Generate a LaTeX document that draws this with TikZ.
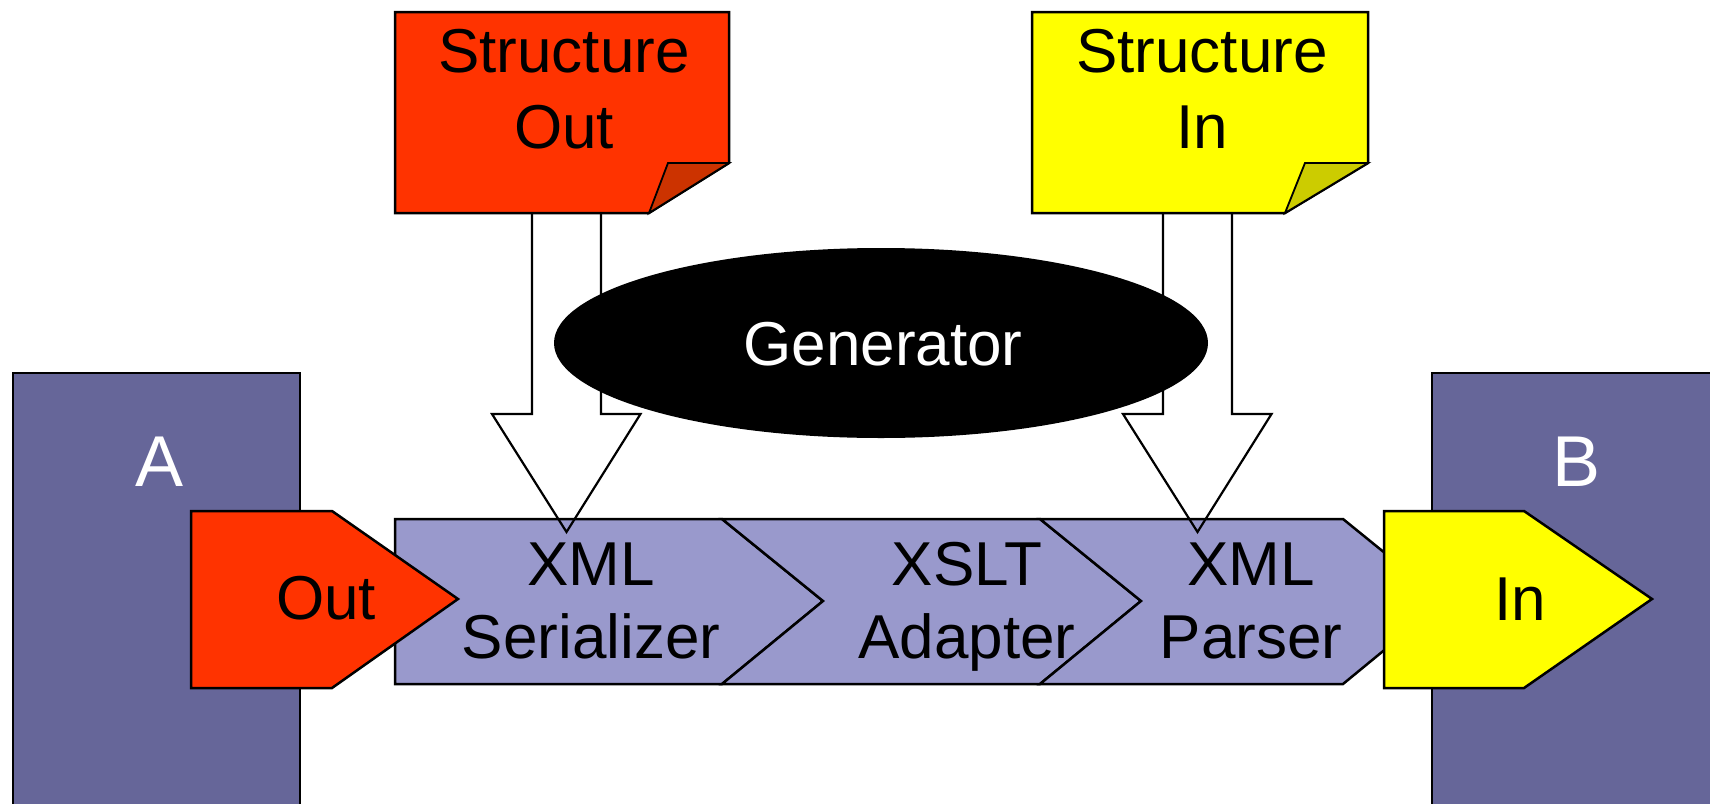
\documentclass[tikz,border=0pt]{standalone}
\usepackage{fontspec}
\setmainfont{Liberation Sans}
\usetikzlibrary{shapes.geometric}
\definecolor{sysfill}{HTML}{666699}
\definecolor{bandfill}{HTML}{9999CC}
\definecolor{redout}{HTML}{FF3300}
\definecolor{redflap}{HTML}{CC3300}
\definecolor{yelin}{HTML}{FFFF00}
\definecolor{yelflap}{HTML}{CCCC00}
\begin{document}
\begin{tikzpicture}[x=1pt,y=-1pt, line join=miter,
  outl/.style={draw=black,line width=2.5pt},
  arrowline/.style={draw=black,line width=2.2pt},
  lbl/.style={font=\fontsize{62}{73}\selectfont, align=center, inner sep=0pt, anchor=base},
  notelbl/.style={font=\fontsize{62}{76}\selectfont, align=center, inner sep=0pt, anchor=base},
  biglbl/.style={font=\fontsize{72}{80}\selectfont, text=white, inner sep=0pt, anchor=base}]
\useasboundingbox (0,0) rectangle (1710,803);
\fill[white] (0,0) rectangle (1710,803);
% systems A and B
\fill[sysfill] (13,373) rectangle (300,830);
\draw[outl] (13,830) -- (13,373) -- (300,373) -- (300,830);
\fill[sysfill] (1432,373) rectangle (1730,830);
\draw[outl] (1432,830) -- (1432,373) -- (1730,373);
\node[biglbl] (A) at (160,486) {A};
\node[biglbl] (B) at (1576,486) {B};
% pipeline band
\draw[outl, fill=bandfill] (395,519) -- (722,519) -- (823,601) -- (722,684) -- (395,684) -- cycle;
\draw[outl, fill=bandfill] (722,519) -- (1040,519) -- (1141,601) -- (1040,684) -- (722,684) -- (823,601) -- cycle;
\draw[outl, fill=bandfill] (1040,519) -- (1343,519) -- (1444,601) -- (1343,684) -- (1040,684) -- (1141,601) -- cycle;
% out / in ports
\draw[outl, fill=redout] (191,511) -- (332,511) -- (458,599) -- (332,688) -- (191,688) -- cycle;
\draw[outl, fill=yelin] (1384,511) -- (1524,511) -- (1652,599) -- (1524,688) -- (1384,688) -- cycle;
% block arrows
\coordinate (soB) at (566.5,213);
\coordinate (soT) at (566.5,532);
\coordinate (siB) at (1197.5,213);
\coordinate (siT) at (1197.5,532);
\draw[arrowline] (soB) ++(-34.5,0) -- ++(0,201) -- ++(-40,0) -- (soT) -- ++(74,-118) -- ++(-39.5,0) -- ++(0,-201);
\draw[arrowline] (siB) ++(-34.5,0) -- ++(0,201) -- ++(-40,0) -- (siT) -- ++(74,-118) -- ++(-39.5,0) -- ++(0,-201);
% generator
\node[ellipse, fill=black, minimum width=654pt, minimum height=190pt, inner sep=0pt] (gen) at (881,343) {};
\node[lbl, text=white] (gentext) at (883,365) {Generator};
% structure notes
\draw[outl, fill=redout] (395,12) -- (729,12) -- (729,163) -- (649,213) -- (395,213) -- cycle;
\draw[outl, fill=redflap, line width=1.8pt] (649,213) -- (668,163) -- (729,163) -- cycle;
\draw[outl, fill=yelin] (1032,12) -- (1368,12) -- (1368,163) -- (1285,213) -- (1032,213) -- cycle;
\draw[outl, fill=yelflap, line width=1.8pt] (1285,213) -- (1305,163) -- (1368,163) -- cycle;
% labels
\node[notelbl] (so) at (564,148) {Structure\\Out};
\node[notelbl] (si) at (1202,148) {Structure\\In};
\node[lbl] (ser) at (591,658) {XML\\Serializer};
\node[lbl] (xslt) at (967,658) {XSLT\\Adapter};
\node[lbl] (par) at (1251,658) {XML\\Parser};
\node[lbl] (out) at (326,619) {Out};
\node[lbl] (in) at (1520,620) {In};
\end{tikzpicture}
\end{document}
